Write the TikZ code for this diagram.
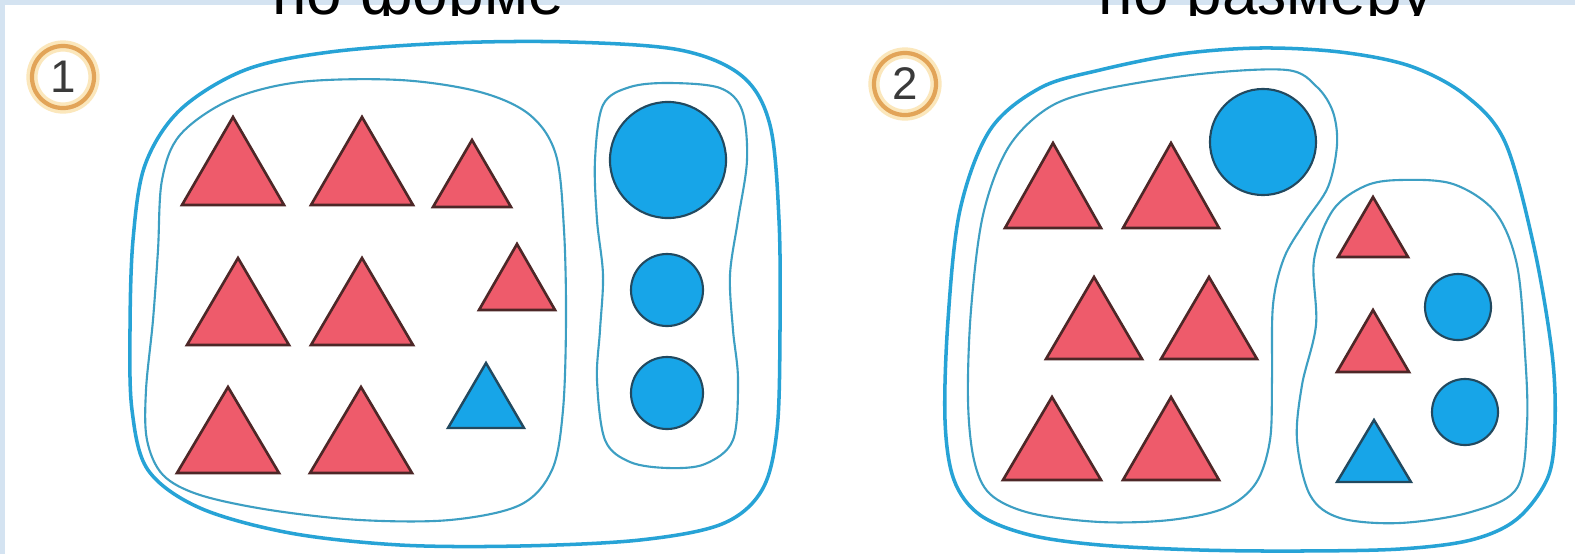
\documentclass[tikz,border=0pt]{standalone}
\usepackage{fontspec}
\setmainfont{Liberation Sans}
\definecolor{Frame}{HTML}{D4E3F1}
\definecolor{Loop}{HTML}{27A3D6}
\definecolor{LoopIn}{HTML}{3D9FC3}
\definecolor{Coral}{HTML}{EE5B6B}
\definecolor{Sky}{HTML}{17A5E8}
\definecolor{EdgeRed}{HTML}{4D2727}
\definecolor{EdgeBlue}{HTML}{22495F}
\definecolor{Ring}{HTML}{E2A458}
\definecolor{RingGlow}{HTML}{FBE7BC}
\definecolor{Digit}{HTML}{3A3A3A}
\tikzset{
  title/.style={text=black,inner sep=0,font=\fontsize{18.2}{20}\selectfont},
  numring/.style={circle,draw=Ring,line width=1.2pt,minimum size=.62cm,inner sep=0,text=Digit,font=\fontsize{13}{15}\selectfont,preaction={draw=RingGlow,line width=3.2pt}},
  outerloop/.style={draw=Loop,line width=1pt},
  innerloop/.style={draw=LoopIn,line width=.6pt},
  redtri/.style={fill=Coral,draw=EdgeRed,line width=.75pt},
  bluetri/.style={fill=Sky,draw=EdgeBlue,line width=.7pt},
  bluedot/.style={fill=Sky,draw=EdgeBlue,line width=.6pt}
}
\begin{document}
\begin{tikzpicture}[x=.01cm,y=-.01cm]
  \useasboundingbox (0,0) rectangle (1575,554);
  \fill[Frame] (0,0) rectangle (1575,554);
  \fill[white] (5,5) rectangle (1575,554);
  \begin{scope}
    \clip (0,0) rectangle (1575,15);
    \node[title,anchor=base] (byform) at (418,14) {по форме};
    \node[title,anchor=base] (bysize) at (1266,14) {по размеру};
  \end{scope}
  \node[numring] (one) at (63,77) {1};
  \node[numring] (two) at (905,84) {2};
  % first picture: by shape
  \draw[outerloop] plot[smooth cycle,tension=.55] coordinates {(330,52) (450,43) (570,42) (680,50) (742,76) (770,125) (779,220) (780,330) (777,430) (762,490) (722,524) (640,540) (520,546) (400,545) (290,533) (200,508) (148,470) (132,410) (130,330) (133,240) (145,165) (180,110) (245,70)};
  \draw[innerloop] plot[smooth cycle,tension=.55] coordinates {(300,82) (400,80) (480,92) (530,115) (556,155) (564,230) (566,320) (563,410) (552,470) (520,505) (450,520) (360,520) (270,510) (200,495) (163,475) (147,440) (146,390) (153,320) (158,250) (162,180) (180,135) (230,100)};
  \draw[innerloop] plot[smooth cycle,tension=.55] coordinates {(670,83) (720,88) (742,110) (747,160) (738,220) (730,275) (733,330) (738,380) (733,440) (705,464) (668,468) (630,462) (605,440) (597,380) (600,330) (603,275) (597,220) (595,160) (603,105) (630,87)};
  \foreach \ax/\ay/\hw/\ht in {233/117/51/88, 362/117/51/88, 472/140/39/67, 238/258/51/87, 362/258/51/87, 517/244/38/66, 228/387/51/86, 361/387/51/86}
    \draw[redtri] (\ax-\hw,\ay+\ht) -- (\ax,\ay) -- (\ax+\hw,\ay+\ht) -- cycle;
  \draw[bluetri] (448,428) -- (486,363) -- (524,428) -- cycle;
  \draw[bluedot] (668,160) circle[radius=5.8mm];
  \draw[bluedot] (667,290) circle[radius=3.6mm];
  \draw[bluedot] (667,393) circle[radius=3.6mm];
  % second picture: by size
  \draw[outerloop] plot[smooth cycle,tension=.55] coordinates {(1100,70) (1180,54) (1260,48) (1340,52) (1410,66) (1465,95) (1505,142) (1534,247) (1552,353) (1555,424) (1548,477) (1517,519) (1471,540) (1400,549) (1300,551) (1200,550) (1100,545) (1030,535) (980,515) (954,480) (945,420) (948,320) (960,210) (990,130) (1040,88)};
  \draw[innerloop] plot[smooth cycle,tension=.55] coordinates {(1100,90) (1200,74) (1287,70) (1317,87) (1333,112) (1337,145) (1328,187) (1305,222) (1284,258) (1273,305) (1272,380) (1270,440) (1256,483) (1225,508) (1170,520) (1100,522) (1030,513) (990,494) (974,460) (968,400) (971,310) (983,215) (1008,148) (1048,108)};
  \draw[innerloop] plot[smooth cycle,tension=.55] coordinates {(1400,180) (1453,184) (1495,212) (1517,265) (1525,353) (1527,424) (1517,488) (1471,512) (1400,523) (1340,518) (1310,495) (1297,440) (1302,385) (1316,325) (1314,260) (1333,210) (1365,186)};
  \foreach \ax/\ay/\hw/\ht in {1053/143/48/85, 1171/143/48/85, 1094/277/48/82, 1209/277/48/82, 1052/397/49/83, 1171/397/48/83, 1373/197/35/60, 1373/310/36/62}
    \draw[redtri] (\ax-\hw,\ay+\ht) -- (\ax,\ay) -- (\ax+\hw,\ay+\ht) -- cycle;
  \draw[bluetri] (1337,482) -- (1374,420) -- (1411,482) -- cycle;
  \draw[bluedot] (1263,142) circle[radius=5.3mm];
  \draw[bluedot] (1458,307) circle[radius=3.3mm];
  \draw[bluedot] (1465,412) circle[radius=3.3mm];
\end{tikzpicture}
\end{document}
